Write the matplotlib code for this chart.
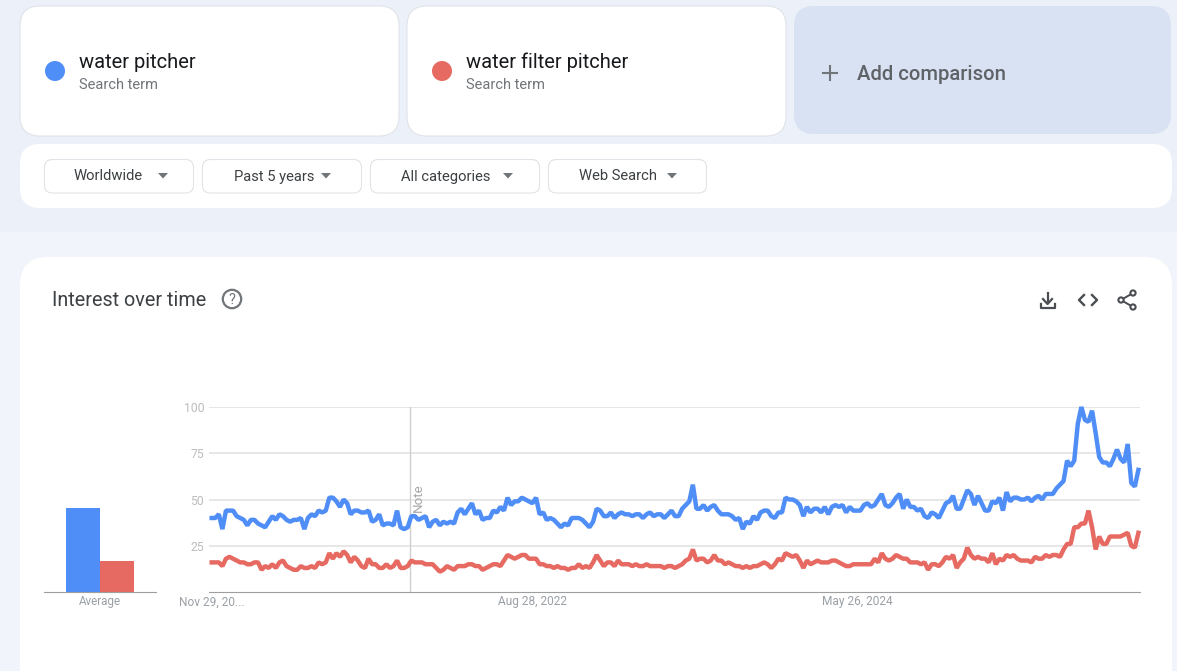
import matplotlib
matplotlib.use("Agg")
import matplotlib.pyplot as plt
from matplotlib.patches import FancyBboxPatch, Rectangle, Circle, Polygon

W, H = 1177, 671
BLUE = "#4F8DF7"
RED = "#E66A62"

terms = ["water pitcher", "water filter pitcher"]
filters = ["Worldwide", "Past 5 years", "All categories", "Web Search"]
averages = [45.5, 16.5]
y_ticks = [25, 50, 75, 100]
x_tick_weeks = [0, 90, 181]
x_tick_labels = ["Nov 29, 20...", "Aug 28, 2022", "May 26, 2024"]
note_week = 55.7

water_pitcher = [
    40, 40, 42, 34, 44, 44, 44, 41, 40, 39, 36, 39, 39, 37, 36, 35, 38, 41, 39, 42,
    41, 39, 38, 39, 39, 40, 34, 40, 42, 41, 44, 43, 44, 51, 51, 49, 46, 50, 48, 42,
    44, 44, 43, 43, 44, 38, 39, 42, 36, 37, 37, 36, 44, 35, 34, 35, 41, 41, 39, 40,
    41, 35, 38, 39, 36, 38, 37, 38, 37, 43, 45, 42, 45, 48, 42, 44, 39, 40, 40, 44,
    43, 46, 44, 51, 47, 49, 49, 51, 50, 49, 48, 51, 42, 43, 39, 40, 39, 37, 35, 37,
    36, 40, 40, 40, 39, 37, 35, 38, 45, 44, 41, 41, 43, 40, 42, 43, 42, 42, 41, 42,
    42, 40, 42, 43, 41, 42, 42, 40, 42, 44, 41, 41, 45, 47, 49, 58, 45, 45, 47, 44,
    46, 47, 44, 42, 42, 42, 41, 39, 40, 34, 38, 37, 41, 39, 43, 44, 44, 41, 40, 43,
    43, 51, 50, 50, 49, 47, 41, 46, 43, 45, 45, 43, 46, 42, 46, 47, 46, 47, 43, 46,
    44, 44, 44, 47, 48, 46, 47, 50, 53, 47, 46, 48, 51, 53, 45, 50, 46, 46, 44, 45,
    41, 40, 43, 42, 40, 44, 48, 49, 52, 45, 45, 50, 55, 53, 47, 52, 48, 44, 44, 49,
    48, 51, 44, 54, 49, 51, 51, 50, 50, 51, 49, 51, 52, 50, 53, 53, 53, 56, 58, 60,
    71, 68, 71, 91, 100, 93, 92, 98, 86, 73, 70, 70, 68, 72, 77, 72, 70, 80, 59, 57,
    66,
]

water_filter_pitcher = [
    16, 16, 16, 14, 18, 19, 18, 17, 16, 16, 15, 15, 16, 16, 12, 14, 13, 15, 13, 16,
    17, 14, 13, 12, 12, 14, 13, 13, 14, 13, 16, 15, 16, 21, 18, 21, 19, 22, 20, 16,
    19, 17, 14, 13, 18, 15, 15, 13, 13, 15, 13, 14, 17, 13, 13, 14, 17, 16, 16, 16,
    15, 15, 15, 13, 11, 12, 14, 13, 12, 14, 14, 14, 15, 15, 14, 14, 12, 13, 14, 15,
    15, 14, 17, 20, 19, 18, 19, 20, 20, 18, 18, 18, 15, 15, 14, 14, 13, 14, 13, 13,
    12, 13, 13, 15, 13, 14, 13, 16, 20, 17, 14, 16, 16, 14, 17, 15, 15, 15, 14, 15,
    14, 14, 15, 14, 14, 14, 14, 13, 14, 14, 13, 14, 15, 17, 18, 23, 17, 18, 18, 16,
    17, 20, 17, 17, 15, 16, 15, 14, 14, 13, 14, 13, 14, 14, 15, 16, 15, 13, 15, 18,
    17, 21, 20, 19, 20, 17, 13, 17, 15, 16, 17, 16, 16, 16, 17, 17, 16, 15, 14, 14,
    15, 15, 15, 15, 15, 15, 18, 16, 21, 18, 17, 18, 20, 19, 18, 18, 16, 16, 16, 15,
    16, 12, 15, 15, 14, 16, 19, 18, 20, 13, 16, 18, 24, 20, 18, 19, 18, 18, 16, 21,
    15, 18, 17, 20, 19, 20, 18, 17, 17, 17, 16, 19, 18, 18, 20, 19, 20, 20, 19, 23,
    26, 26, 35, 35, 37, 37, 44, 35, 23, 30, 26, 26, 30, 30, 30, 30, 31, 32, 25, 24,
    32,
]

plt.rcParams["font.family"] = ["Roboto", "DejaVu Sans"]
fig = plt.figure(figsize=(W / 100, H / 100), dpi=100, facecolor="#F1F4FB")


def card(ax, x0, y0, x1, y1, r, face="white", edge="none", lw=0.8):
    box = FancyBboxPatch((x0, y0), x1 - x0, y1 - y0,
                         boxstyle="round,pad=0,rounding_size=%s" % r,
                         facecolor=face, edgecolor=edge, linewidth=lw)
    ax.add_patch(box)


def px_axes(x0, y0, x1, y1):
    # pixel box, y measured from the top of the screenshot
    return fig.add_axes([x0 / W, 1 - y1 / H, (x1 - x0) / W, (y1 - y0) / H])


# page furniture in screenshot pixels
ui = px_axes(0, 0, W, H)
ui.set_xlim(0, W)
ui.set_ylim(H, 0)
ui.axis("off")
ui.add_patch(Rectangle((0, 0), W, 232, facecolor="#ECF0F8", edgecolor="none"))

card(ui, 20, 6, 399, 136, 20, edge="#E0E3E8")
card(ui, 407, 6, 786, 136, 20, edge="#E0E3E8")
card(ui, 794, 6, 1171, 134, 20, face="#D9E2F3")
card(ui, 20, 144, 1172, 208, 20)
card(ui, 20, 257, 1172, 720, 28)

for x, color, term in zip([55, 442], [BLUE, RED], terms):
    ui.add_patch(Circle((x, 71), 10, facecolor=color, edgecolor="none"))
    ui.text(x + 24, 62.5, term, fontsize=14.5, color="#17191C", va="center", ha="left")
    ui.text(x + 24, 85, "Search term", fontsize=10.5, color="#70757A", va="center", ha="left")

ui.plot([823, 837], [73, 73], color="#70757A", lw=1.5)
ui.plot([830, 830], [66, 80], color="#70757A", lw=1.5)
ui.text(857, 74, "Add comparison", fontsize=14.6, fontweight="medium", color="#5F6368", va="center", ha="left")

pills = [(44.5, 193.5, 74, 163), (202.5, 361.5, 234, 326), (370.5, 539.5, 401, 508), (548.5, 706.5, 579, 672)]
for (x0, x1, tx, tri), label in zip(pills, filters):
    card(ui, x0, 159.5, x1, 193, 8, edge="#E0E3E7")
    ui.text(tx, 176.5, label, fontsize=10.6, color="#3C4043", va="center", ha="left")
    ui.add_patch(Polygon([(tri - 5, 173), (tri + 5, 173), (tri, 178.5)],
                         facecolor="#70757A", edgecolor="none"))

ui.text(51.5, 301, "Interest over time", fontsize=14.2, color="#3C4043", va="center", ha="left")
ui.add_patch(Circle((232, 299), 9.2, facecolor="none", edgecolor="#70757A", linewidth=1.6))
ui.text(232, 299.5, "?", fontsize=10.5, color="#70757A", va="center", ha="center")

# download, embed and share icons
icon = "#4A4D51"
ui.plot([1047.5, 1047.5], [293, 303], color=icon, lw=1.6)
ui.plot([1043, 1047.5, 1052], [299, 304, 299], color=icon, lw=1.6)
ui.plot([1040.5, 1040.5, 1055, 1055], [304, 308, 308, 304], color=icon, lw=1.6)
ui.plot([1084, 1079, 1084], [295, 300, 305], color=icon, lw=1.7)
ui.plot([1092, 1097, 1092], [295, 300, 305], color=icon, lw=1.7)
ui.plot([1133, 1121, 1133], [293, 300, 307], color=icon, lw=1.4)
for cx, cy in [(1133, 293), (1121, 300), (1133, 307)]:
    ui.add_patch(Circle((cx, cy), 2.6, facecolor="white", edgecolor=icon, linewidth=1.5, zorder=3))

# small average bars
weeks = list(range(len(water_pitcher)))

bar_ax = px_axes(44, 407, 156, 592)
bar_ax.patch.set_alpha(0)
bar_ax.bar([0, 1], averages, width=1, color=[BLUE, RED])
bar_ax.set_xlim(-1.147, 2.147)
bar_ax.set_ylim(0, 100)
bar_ax.set_yticks([])
bar_ax.set_xticks([0.5])
bar_ax.set_xticklabels(["Average"], fontsize=8.4, color="#9AA0A6")
bar_ax.tick_params(axis="x", length=0, pad=2.5)
for side in ["top", "left", "right"]:
    bar_ax.spines[side].set_visible(False)
bar_ax.spines["bottom"].set_color("#9E9E9E")

# trend lines
ax = px_axes(209, 407, 1140, 592)
ax.patch.set_alpha(0)
step = (1138.4 - 211.7) / 260
ax.set_xlim(-(211.7 - 209) / step, 260 + (1140 - 1138.4) / step)
ax.set_ylim(0, 100)
ax.yaxis.grid(True, color="#E0E0E0", lw=1.1)
ax.set_axisbelow(True)
ax.set_yticks(y_ticks)
ax.set_yticklabels([str(v) for v in y_ticks], fontsize=8.8, color="#BDBDBD")
ax.set_xticks(x_tick_weeks)
ax.set_xticklabels(x_tick_labels, fontsize=8.6, color="#9AA0A6")
ax.tick_params(axis="both", length=0)
ax.tick_params(axis="x", pad=2.5)
ax.tick_params(axis="y", pad=3.5)
for side in ["top", "left", "right"]:
    ax.spines[side].set_visible(False)
ax.spines["bottom"].set_color("#9E9E9E")

ax.axvline(note_week, color="#CFCFCF", lw=1)
ax.text(note_week + 2.2, 43, "Note", rotation=90, fontsize=9.6, color="#A6A6A6", ha="center", va="bottom")

ax.plot(weeks, water_filter_pitcher, color=RED, lw=3.2, solid_joinstyle="bevel", clip_on=False)
ax.plot(weeks, water_pitcher, color=BLUE, lw=3.2, solid_joinstyle="bevel", clip_on=False)

fig.savefig("out.png", dpi=100, facecolor=fig.get_facecolor())
